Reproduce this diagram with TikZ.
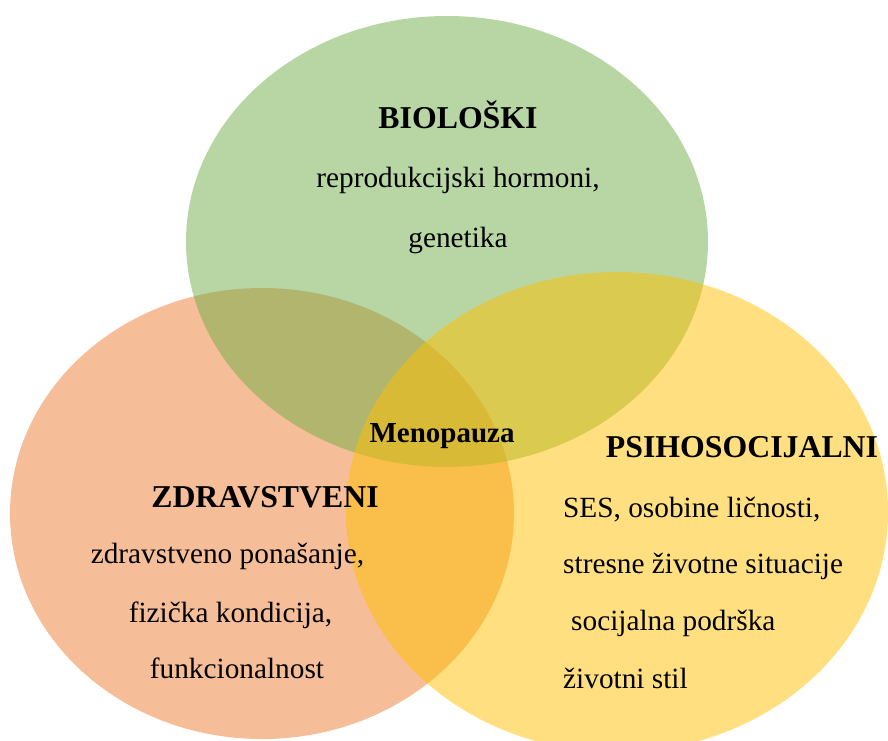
\documentclass[tikz,border=0pt]{standalone}
\usepackage{fontspec}
\setmainfont{Liberation Serif}
\usetikzlibrary{shapes.geometric}
\definecolor{cOrange}{HTML}{ED7D31}
\definecolor{cYellow}{HTML}{FFC000}
\definecolor{cGreen}{HTML}{70AD47}
\tikzset{
  blob/.style={ellipse, draw=none, fill opacity=0.5, inner sep=0pt},
  head/.style={anchor=base, inner sep=0pt, font=\fontsize{31.8}{36}\selectfont\bfseries},
  mid/.style={anchor=base, inner sep=0pt, font=\fontsize{29}{34}\selectfont\bfseries},
  body/.style={anchor=base, inner sep=0pt, font=\fontsize{29.3}{34}\selectfont},
  bodyl/.style={body, anchor=base west}
}
\begin{document}
\begin{tikzpicture}[x=1pt,y=-1pt]
\useasboundingbox (0,0) rectangle (888,740);
\begin{scope}
\clip (0,0) rectangle (888,740);
\node[blob, fill=cOrange, minimum width=504pt, minimum height=451pt] (zdr) at (262,513.5) {};
\node[blob, fill=cGreen, minimum width=522pt, minimum height=451pt] (bio) at (447,241.5) {};
\node[blob, fill=cYellow, minimum width=542pt, minimum height=480pt] (psi) at (617,512) {};
\end{scope}
% Biological
\node[head] (bioh) at (458,128) {BIOLOŠKI};
\node[body] (bio1) at (458,187) {reprodukcijski hormoni,};
\node[body] (bio2) at (458,247) {genetika};
% Center
\node[mid] (meno) at (442,442) {Menopauza};
% Health
\node[head] (zdrh) at (265,507) {ZDRAVSTVENI};
\node[body] (zdr1) at (227.5,563) {zdravstveno ponašanje,};
\node[body] (zdr2) at (230.5,622) {fizička kondicija,};
\node[body] (zdr3) at (237,678) {funkcionalnost};
% Psychosocial
\node[head] (psih) at (742,457) {PSIHOSOCIJALNI};
\node[bodyl] (psi1) at (563,517) {SES, osobine ličnosti,};
\node[bodyl] (psi2) at (563,573) {stresne životne situacije};
\node[bodyl] (psi3) at (571,630) {socijalna podrška};
\node[bodyl] (psi4) at (563,688) {životni stil};
\end{tikzpicture}
\end{document}
